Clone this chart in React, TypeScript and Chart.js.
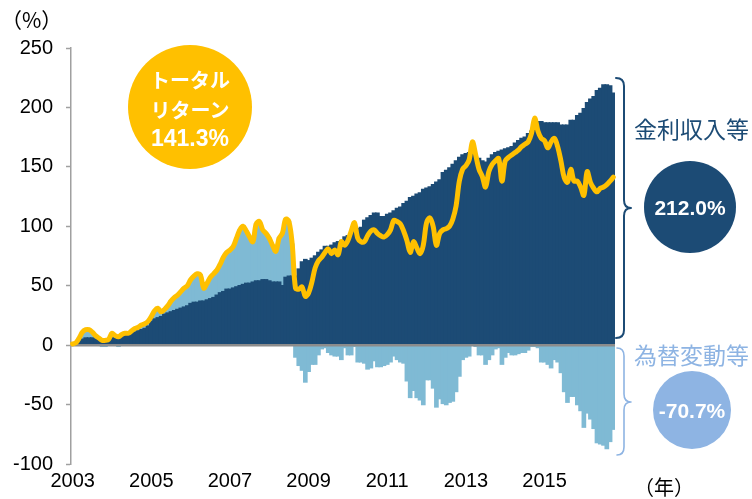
import React, { useEffect, useRef } from "react";
import { Chart, registerables } from "chart.js";

Chart.register(...registerables);

// ---------- data ----------
const startYear = 2003;
const monthCount = 166; // 2003/1 .. 2016/10
const categories: string[] = [];
for (let i = 0; i < monthCount; i++) {
  categories.push(`${startYear + Math.floor(i / 12)}/${(i % 12) + 1}`);
}
const yearTickLabels = ["2003", "2005", "2007", "2009", "2011", "2013", "2015"];

// 金利収入等 (cumulative, %)
const incomeValues = [
  0.5, 1, 3, 5, 6, 6, 6, 5, 5, 5, 5, 5,
  6, 6, 8, 8, 8, 9, 10, 11, 12, 13, 14, 16,
  20, 22, 23, 24, 26, 27, 28, 29, 30, 31, 32, 33,
  35, 36, 36, 37, 37, 38, 39, 40, 42, 44, 45, 47,
  47, 48, 49, 50, 51, 52, 52, 53, 54, 54, 55, 55,
  54, 53, 53, 53, 50, 57, 58, 58, 58, 64, 70, 72,
  71, 73, 75, 78, 80, 83, 83, 84, 86, 87, 88, 91,
  92, 94, 97, 98, 99, 105, 107, 109, 111, 111, 108, 108,
  110, 111, 113, 115, 116, 119, 121, 124, 125, 127, 128, 131,
  132, 133, 135, 137, 139, 145, 147, 149, 152, 155, 158, 160,
  161, 162, 161, 159, 157, 155, 154, 157, 160, 162, 163, 164,
  165, 166, 167, 170, 172, 174, 175, 178, 180, 185, 188, 188,
  187, 187, 187, 187, 187, 185, 185, 185, 189, 189, 193, 195,
  199, 204, 207, 209, 214, 216, 219, 219, 218, 212,
];

// 為替変動等 (cumulative, %)
const fxValues = [
  0.5, 1, 3, 6, 7, 7, 5, 3, 1, -1, -1, 0,
  4, 2, -1, 1, 2, 1, 2, 3, 3, 4, 4, 4,
  4, 7, 8, 4, 4, 6, 9, 11, 12, 14, 16, 17,
  20, 22, 24, 22, 11, 14, 18, 20, 21, 24, 29, 31,
  33, 35, 41, 47, 49, 44, 39, 34, 48, 50, 42, 39,
  36, 31, 26, 37, 44, 49, 46, 27, -10, -17, -21, -31,
  -22, -16, -16, -8, -3, -2, -6, -8, -9, -9, -12, -2,
  -8, -8, -1, -14, -14, -15, -20, -19, -13, -18, -18, -17,
  -16, -14, -9, -12, -14, -15, -30, -44, -38, -44, -46, -50,
  -29, -29, -36, -52, -45, -49, -50, -48, -47, -39, -26, -12,
  -10, -9, 0, -1, -8, -8, -16, -12, -8, -3, -2, -16,
  -10, -6, -8, -8, -7, -6, -6, -4, -1, -1, -2, -14,
  -14, -16, -19, -12, -14, -23, -39, -48, -43, -43, -50, -55,
  -69, -57, -62, -70, -82, -83, -84, -87, -81, -70.7,
];

// トータルリターン (cumulative, %)
const totalReturn = [
  1, 2, 6, 11, 13, 13, 11, 8, 6, 4, 4, 5,
  10, 8, 7, 9, 10, 10, 12, 14, 15, 17, 18, 20,
  24, 29, 31, 28, 30, 33, 37, 40, 42, 45, 48, 50,
  55, 58, 60, 59, 48, 52, 57, 60, 63, 68, 74, 78,
  80, 83, 90, 97, 100, 96, 91, 87, 102, 104, 97, 94,
  90, 84, 79, 90, 94, 106, 104, 85, 48, 47, 49, 41,
  44, 53, 65, 71, 74, 78, 81, 77, 80, 76, 87, 84,
  88, 96, 103, 90, 87, 87, 92, 96, 97, 94, 92, 91,
  93, 97, 105, 104, 102, 96, 88, 78, 87, 82, 77, 84,
  103, 107, 100, 84, 94, 97, 98, 100, 106, 117, 138, 148,
  151, 156, 171, 160, 148, 142, 133, 146, 152, 155, 157, 138,
  155, 158, 160, 162, 164, 167, 169, 171, 178, 191, 180, 174,
  172, 166, 171, 174, 167, 155, 141, 137, 148, 138, 138, 133,
  126, 146, 137, 132, 129, 132, 133, 135, 138, 141.3,
];

const yMin = -100;
const yMax = 250;
const yStep = 50;

// ---------- style ----------
const DARK = "#1C4B75";
const LIGHT = "#7FBAD4";
const YELLOW = "#FFC000";
const LIGHT_LABEL = "#8EB4E3";
const AXIS_GRAY = "#A0A0A0";
const FONT_LATIN = '"Liberation Sans", Arial, Helvetica, sans-serif';
const FONT_CJK = '"Noto Sans CJK JP", "Noto Sans", sans-serif';

const W = 752;
const H = 499;

const overlayPlugin = {
  id: "overlay",
  beforeDatasetDraw(chart: any, args: any) {
    if (args.index !== 0) return;
    const { ctx, chartArea } = chart;
    const y0 = chart.scales.y.getPixelForValue(0);
    ctx.save();
    ctx.strokeStyle = "#8C8C8C";
    ctx.lineWidth = 2.5;
    ctx.beginPath();
    ctx.moveTo(chartArea.left, y0);
    ctx.lineTo(chartArea.right, y0);
    ctx.stroke();
    ctx.restore();
  },
  afterDraw(chart: any) {
    const { ctx, chartArea } = chart;
    const r = chartArea.right;
    const brace = (x0: number, xv: number, xt: number, top: number, mid: number, bot: number, color: string, lw: number) => {
      const c = 8;
      ctx.save();
      ctx.strokeStyle = color;
      ctx.lineWidth = lw;
      ctx.lineJoin = "round";
      ctx.lineCap = "round";
      ctx.beginPath();
      ctx.moveTo(x0, top);
      ctx.quadraticCurveTo(xv, top, xv, top + c);
      ctx.lineTo(xv, mid - c);
      ctx.quadraticCurveTo(xv, mid, xt, mid);
      ctx.quadraticCurveTo(xv, mid, xv, mid + c);
      ctx.lineTo(xv, bot - c);
      ctx.quadraticCurveTo(xv, bot, x0, bot);
      ctx.stroke();
      ctx.restore();
    };
    brace(r + 1, r + 9, r + 16, 78, 208, 338, DARK, 2);
    brace(r + 2, r + 9, r + 16, 348, 402, 455, LIGHT_LABEL, 1.6);
  },
};

type TextProps = {
  cx: number;
  cy: number;
  text: string;
  size: number;
  color: string;
  family: string;
  weight?: number;
  align?: "center" | "left";
};

function Txt({ cx, cy, text, size, color, family, weight = 400, align = "center" }: TextProps) {
  const h = size * 2;
  const style: React.CSSProperties = {
    position: "absolute",
    top: cy - h / 2,
    height: h,
    lineHeight: `${h}px`,
    fontSize: size,
    fontFamily: family,
    fontWeight: weight,
    color,
    whiteSpace: "nowrap",
  };
  if (align === "center") {
    style.left = cx - 150;
    style.width = 300;
    style.textAlign = "center";
  } else {
    style.left = cx;
  }
  return <div style={style}>{text}</div>;
}

function Circle({ cx, cy, r, color }: { cx: number; cy: number; r: number; color: string }) {
  return (
    <div
      style={{
        position: "absolute",
        left: cx - r,
        top: cy - r,
        width: r * 2,
        height: r * 2,
        borderRadius: "50%",
        background: color,
      }}
    />
  );
}

export default function App() {
  const ref = useRef<HTMLCanvasElement>(null);

  useEffect(() => {
    if (!ref.current) return;
    const chart = new Chart(ref.current, {
      type: "bar",
      data: {
        labels: categories,
        datasets: [
          {
            type: "line",
            label: "トータルリターン",
            data: totalReturn,
            borderColor: YELLOW,
            borderWidth: 5,
            pointRadius: 0,
            tension: 0.35,
            fill: false,
            stack: "line",
            borderCapStyle: "round",
            borderJoinStyle: "round",
          } as any,
          {
            type: "bar",
            label: "金利収入等",
            data: incomeValues,
            backgroundColor: DARK,
            stack: "s",
            barPercentage: 1,
            categoryPercentage: 1,
            borderWidth: 0,
            inflateAmount: 0.7,
          } as any,
          {
            type: "bar",
            label: "為替変動等",
            data: fxValues,
            backgroundColor: LIGHT,
            stack: "s",
            barPercentage: 1,
            categoryPercentage: 1,
            borderWidth: 0,
            inflateAmount: 0.7,
          } as any,
        ],
      },
      options: {
        responsive: false,
        animation: false,
        devicePixelRatio: 1,
        layout: { padding: { left: 0, right: 137, top: 48, bottom: 0 } },
        plugins: { legend: { display: false }, tooltip: { enabled: false } },
        scales: {
          x: {
            stacked: true,
            grid: { display: false, drawTicks: false },
            border: { display: false },
            ticks: {
              autoSkip: false,
              maxRotation: 0,
              minRotation: 0,
              padding: 5,
              color: "#000",
              font: { family: FONT_LATIN, size: 20 },
              callback: (_v: any, index: number) => {
                const [y, m] = categories[index].split("/");
                return m === "1" && yearTickLabels.includes(y) ? y : "";
              },
            },
            afterFit: (s: any) => {
              s.height = 35;
            },
          },
          y: {
            stacked: true,
            min: yMin,
            max: yMax,
            ticks: {
              stepSize: yStep,
              padding: 13,
              color: "#000",
              font: { family: FONT_LATIN, size: 20 },
            },
            grid: {
              display: true,
              drawOnChartArea: false,
              drawTicks: true,
              tickLength: 5,
              tickColor: AXIS_GRAY,
              tickWidth: 1.5,
            },
            border: { display: true, color: AXIS_GRAY, width: 1.5 },
            afterFit: (s: any) => {
              s.width = 71;
            },
          },
        },
      },
      plugins: [overlayPlugin],
    });
    return () => chart.destroy();
  }, []);

  return (
    <div style={{ position: "fixed", left: 0, top: 0, width: W, height: H, background: "#fff", overflow: "hidden" }}>
      <canvas ref={ref} width={W} height={H} style={{ position: "absolute", left: 0, top: 0, width: W, height: H }} />
      <Txt cx={1} cy={19} text="（%）" size={21} color="#000" family={FONT_CJK} align="left" />
      <Txt cx={634} cy={487} text="（年）" size={20} color="#000" family={FONT_CJK} align="left" />

      <Circle cx={190} cy={107} r={62} color={YELLOW} />
      <Txt cx={190} cy={80} text="トータル" size={20} color="#fff" family={FONT_CJK} weight={700} />
      <Txt cx={190} cy={110} text="リターン" size={20} color="#fff" family={FONT_CJK} weight={700} />
      <Txt cx={190} cy={138} text="141.3%" size={23} color="#fff" family={FONT_LATIN} weight={700} />

      <Txt cx={634} cy={128} text="金利収入等" size={23} color={DARK} family={FONT_CJK} align="left" />
      <Circle cx={690} cy={207} r={46} color={DARK} />
      <Txt cx={690} cy={208} text="212.0%" size={21} color="#fff" family={FONT_LATIN} weight={700} />

      <Txt cx={634} cy={354} text="為替変動等" size={23} color={LIGHT_LABEL} family={FONT_CJK} align="left" />
      <Circle cx={692} cy={410} r={39} color={LIGHT_LABEL} />
      <Txt cx={692} cy={411} text="-70.7%" size={21} color="#fff" family={FONT_LATIN} weight={700} />
    </div>
  );
}
